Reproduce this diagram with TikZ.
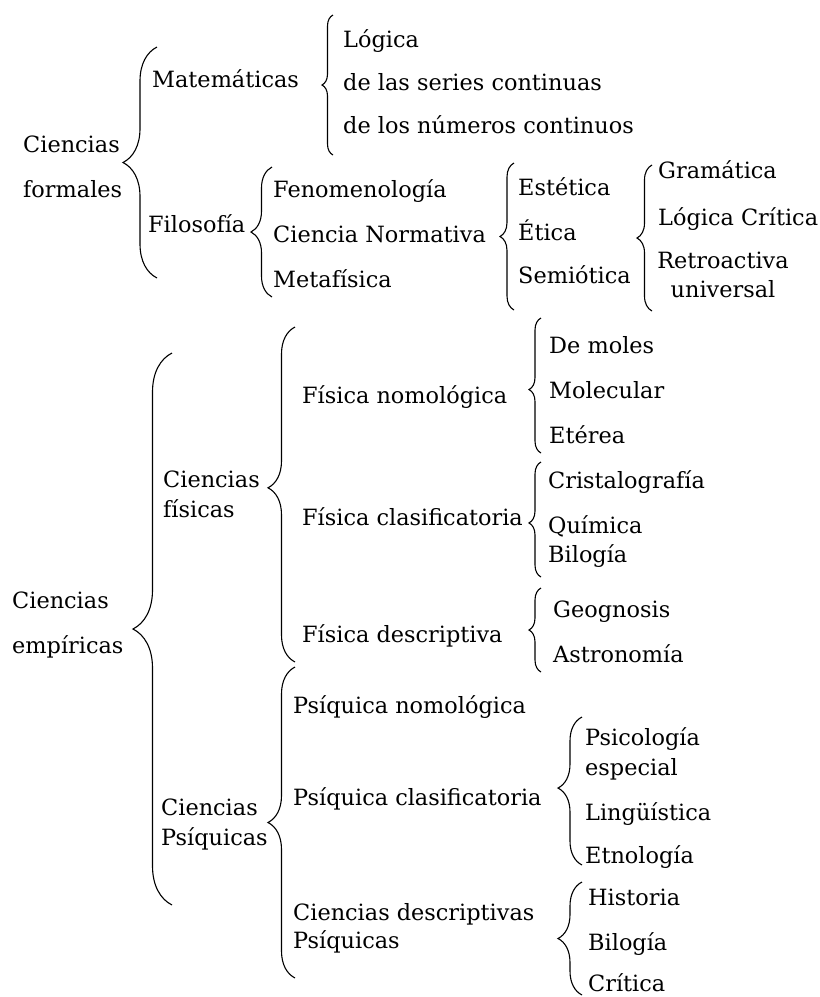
\documentclass[tikz,border=0pt]{standalone}
\usepackage{fontspec}
\usepackage{tikz}
\usetikzlibrary{decorations.pathreplacing}
\newfontfamily\textoserif{DejaVu Serif}
\tikzset{
  rama/.style={anchor=base west, inner sep=0pt, font=\textoserif\fontsize{22.4}{26}\selectfont},
  ramac/.style={rama, anchor=base},
  llave/.style={decorate, decoration={brace, amplitude=#1}, line width=1.1pt},
  llave/.default=12
}

\begin{document}
\begin{tikzpicture}[x=1pt, y=-1pt]
\useasboundingbox (0,0) rectangle (820,997);

% Ciencias formales
\node[rama] (formales1) at (23,152) {Ciencias};
\node[rama] (formales2) at (23,197) {formales};
\node[rama] (mate) at (152,87) {Matemáticas};
\node[rama] (logica) at (343,47) {Lógica};
\node[rama] (series) at (343,90) {de las series continuas};
\node[rama] (numeros) at (343,133) {de los números continuos};
\node[rama] (filo) at (148,232) {Filosofía};
\node[rama] (fenom) at (273,197) {Fenomenología};
\node[rama] (normativa) at (273,242) {Ciencia Normativa};
\node[rama] (metafis) at (273,287) {Metafísica};
\node[rama] (estetica) at (518,195) {Estética};
\node[rama] (etica) at (518,240) {Ética};
\node[rama] (semio) at (518,283) {Semiótica};
\node[rama] (grama) at (658,178) {Gramática};
\node[rama] (critica1) at (658,225) {Lógica Crítica};
\node[ramac] (retro1) at (723,268) {Retroactiva};
\node[ramac] (retro2) at (723,297) {universal};

\draw[llave=34] (157,278) -- (157,47);
\draw[llave=11] (333,155) -- (333,15);
\draw[llave=21] (272,297) -- (272,167);
\draw[llave=14] (514,310) -- (514,163);
\draw[llave=15] (652,311) -- (652,165);

% Ciencias empiricas
\node[rama] (empiricas1) at (12,608) {Ciencias};
\node[rama] (empiricas2) at (12,653) {empíricas};
\node[rama] (fisicas1) at (163,487) {Ciencias};
\node[rama] (fisicas2) at (163,517) {físicas};
\node[rama] (nomo) at (302,403) {Física nomológica};
\node[rama] (clasif) at (302,525) {Física clasificatoria};
\node[rama] (descr) at (302,642) {Física descriptiva};
\node[rama] (moles) at (549,353) {De moles};
\node[rama] (molec) at (549,398) {Molecular};
\node[rama] (eterea) at (549,443) {Etérea};
\node[rama] (cristal) at (548,488) {Cristalografía};
\node[rama] (quimica) at (548,533) {Química};
\node[rama] (bilogia1) at (548,562) {Bilogía};
\node[rama] (geog) at (553,617) {Geognosis};
\node[rama] (astro) at (553,662) {Astronomía};

\node[rama] (psiq1) at (161,815) {Ciencias};
\node[rama] (psiq2) at (161,845) {Psíquicas};
\node[rama] (pnomo) at (293,713) {Psíquica nomológica};
\node[rama] (pclasif) at (293,805) {Psíquica clasificatoria};
\node[rama] (pdescr1) at (293,920) {Ciencias descriptivas};
\node[rama] (pdescr2) at (293,948) {Psíquicas};
\node[rama] (psico1) at (585,745) {Psicología};
\node[rama] (psico2) at (585,775) {especial};
\node[rama] (lingu) at (585,820) {Lingüística};
\node[rama] (etno) at (585,863) {Etnología};
\node[rama] (histo) at (588,905) {Historia};
\node[rama] (bilogia2) at (588,950) {Bilogía};
\node[rama] (critica2) at (588,991) {Crítica};

\draw[llave=39] (172,905) -- (172,353);
\draw[llave=27, decoration={aspect=0.52}] (295,662) -- (295,327);
\draw[llave=12, decoration={aspect=0.47}] (541,453) -- (541,318);
\draw[llave=12, decoration={aspect=0.47}] (541,577) -- (541,462);
\draw[llave=12] (541,672) -- (541,588);
\draw[llave=27] (295,978) -- (295,667);
\draw[llave=24, decoration={aspect=0.52}] (582,865) -- (582,717);
\draw[llave=24] (582,995) -- (582,882);

\end{tikzpicture}
\end{document}
